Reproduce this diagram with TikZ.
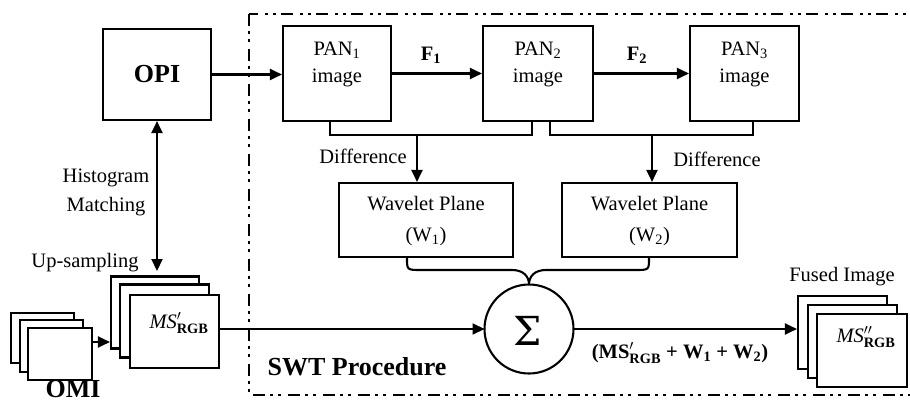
\documentclass[tikz,border=0pt]{standalone}
\usepackage{amsmath}
\usepackage{fontspec}
\setmainfont{Liberation Serif}
\newfontfamily\sigfont{DejaVu Serif}
\usetikzlibrary{arrows.meta}
\begin{document}
\begin{tikzpicture}[x=1pt,y=-1pt,
  box/.style={draw, line width=2.1pt, fill=white, inner sep=0pt, minimum width=#1},
  conn/.style={line width=2.1pt},
  arr/.style={conn, -{Triangle[length=12pt,width=11pt]}},
  arrtwo/.style={conn, {Triangle[length=12pt,width=11pt]}-{Triangle[length=12pt,width=11pt]}},
  txt/.style={font=\fontsize{20.5}{27}\selectfont, inner sep=0pt, align=center},
  bigtxt/.style={font=\fontsize{26}{30}\selectfont\bfseries, inner sep=0pt},
  frame/.style={line width=2.6pt, dash pattern=on 12pt off 5pt on 3pt off 5pt on 3pt off 7pt}
]
\useasboundingbox (0,0) rectangle (910,404);

% SWT frame
\draw[frame] (249,14) rectangle (940,395);

% main boxes
\node[box=108pt, minimum height=91pt] (opi) at (157,74.5) {};
\node[bigtxt] (opit) at (157,74) {OPI};
\node[box=108pt, minimum height=95pt] (pan1) at (337,73.5) {};
\node[box=110pt, minimum height=95pt] (pan2) at (538,73.5) {};
\node[box=109pt, minimum height=95pt] (pan3) at (744.5,73.5) {};
\node[txt] (pan1t) at (337,64) {PAN\textsubscript{1}\\image};
\node[txt] (pan2t) at (538,64) {PAN\textsubscript{2}\\image};
\node[txt] (pan3t) at (744.5,64) {PAN\textsubscript{3}\\image};

\node[box=174pt, minimum height=74pt] (w1) at (426,220) {};
\node[box=175pt, minimum height=74pt] (w2) at (649.5,220) {};
\node[txt, font=\fontsize{20.5}{31}\selectfont] (w1t) at (426,221) {Wavelet Plane\\(W\textsubscript{1})};
\node[txt, font=\fontsize{20.5}{31}\selectfont] (w2t) at (649.5,221) {Wavelet Plane\\(W\textsubscript{2})};

\node[draw, circle, line width=2.1pt, minimum size=89pt, inner sep=0pt, outer sep=0pt] (sig) at (529,329) {};
\node[inner sep=0pt, font=\fontsize{40}{44}\sigfont] (sigt) at (528,331) {Σ};

% MS' stack
\node[box=88pt, minimum height=72pt] (msA) at (155,312.5) {};
\node[box=89pt, minimum height=73pt] (msB) at (164.5,321) {};
\node[box=89pt, minimum height=73pt] (msC) at (174.5,331.5) {};
\node[txt] (mst) at (179,323) {\textit{MS}$'_{\text{\bfseries RGB}}$};

% OMI stack
\node[box=63pt, minimum height=50pt] (omiA) at (42.5,338) {};
\node[box=63pt, minimum height=52pt] (omiB) at (51.5,346) {};
\node[box=64pt, minimum height=52pt] (omiC) at (60,354) {};
\node[bigtxt, anchor=base] (omit) at (73,397) {OMI};

% Fused stack
\node[box=89pt, minimum height=73pt] (fA) at (842.5,332.5) {};
\node[box=89pt, minimum height=73pt] (fB) at (852.5,341.5) {};
\node[box=90pt, minimum height=73pt] (fC) at (862,350.5) {};
\node[txt] (ft) at (866,337) {\textit{MS}$''_{\text{\bfseries RGB}}$};

% labels
\node[txt] (upl) at (85,263) {Up-sampling};
\node[txt, font=\fontsize{20.5}{29}\selectfont] (hml) at (106,192.5) {Histogram\\Matching};
\node[txt] (d1l) at (363,156) {Difference};
\node[txt] (d2l) at (717,159) {Difference};
\node[txt] (fil) at (842,277) {Fused Image};
\node[txt] (f1l) at (431,55) {\textbf{F}$_{\text{\bfseries 1}}$};
\node[txt] (f2l) at (637,55) {\textbf{F}$_{\text{\bfseries 2}}$};
\node[txt] (suml) at (680,353) {\textbf{(MS}$'_{\text{\bfseries RGB}}$\textbf{ + W}$_{\text{\bfseries 1}}$\textbf{ + W}$_{\text{\bfseries 2}}$\textbf{)}};
\node[bigtxt] (swt) at (357,367) {SWT Procedure};

% connectors
\draw[arr] (opi.east) -- (opi.east -| pan1.west);
\draw[arr] (pan1.east) -- (pan2.west);
\draw[arr] (pan2.east) -- (pan3.west);
\coordinate (hmend) at (157,271);
\draw[arrtwo] (opi.south) -- (hmend);

\coordinate (d1) at (417,135);
\coordinate (d2) at (652,135);
\draw[conn] (pan1.south -| 330,0) |- (d1) -| (pan2.south -| 532,0);
\draw[arr] (d1) -- (d1 |- w1.north);
\draw[conn] (pan2.south -| 550,0) |- (d2) -| (pan3.south -| 753,0);
\draw[arr] (d2) -- (d2 |- w2.north);

\draw[conn] (w1.south -| 407,0) .. controls (407,270) and (407,270) .. (421,270) -- (512,270) .. controls (523,270) and (529,276) .. (sig.north);
\draw[conn] (w2.south -| 649,0) .. controls (649,270) and (649,270) .. (635,270) -- (546,270) .. controls (535,270) and (529,276) .. (sig.north);

\draw[arr] (sig.west -| msC.east) -- (sig.west);
\draw[arr] (sig.east) -- (sig.east -| fA.west);
\coordinate (om) at (0,342);
\draw[arr] (om -| omiC.east) -- (om -| msA.west);
\end{tikzpicture}
\end{document}
